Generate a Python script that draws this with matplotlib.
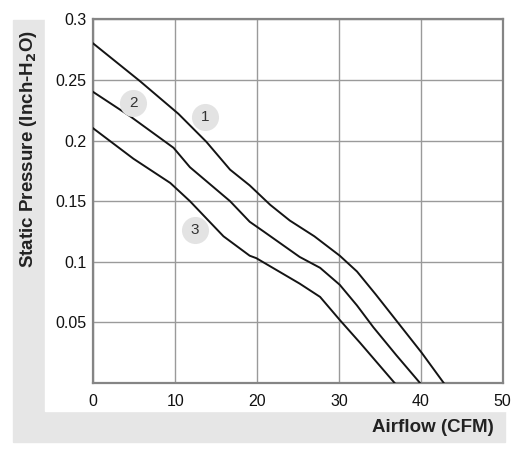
import matplotlib.pyplot as plt
from matplotlib.patches import Rectangle

plt.rcParams['font.family'] = ['Liberation Sans', 'DejaVu Sans']

# fan curves (airflow CFM, static pressure inch-H2O)
x1 = [0, 5.7, 10.4, 13.8, 16.7, 19.1, 21.6, 24.0, 27.0, 30.1, 32.2, 34.5, 36.6, 40.1, 42.8]
y1 = [0.280, 0.249, 0.222, 0.199, 0.176, 0.163, 0.147, 0.134, 0.121, 0.105, 0.092, 0.073, 0.055, 0.025, 0.0]

x2 = [0, 4.5, 9.8, 11.8, 16.7, 19.1, 20.8, 25.2, 27.7, 30.1, 32.2, 34.2, 37.0, 39.9]
y2 = [0.240, 0.220, 0.194, 0.178, 0.150, 0.133, 0.125, 0.104, 0.095, 0.081, 0.064, 0.046, 0.023, 0.0]

x3 = [0, 4.9, 9.4, 11.8, 15.9, 19.1, 19.9, 25.2, 27.7, 30.1, 32.6, 36.8]
y3 = [0.210, 0.185, 0.165, 0.150, 0.121, 0.105, 0.103, 0.082, 0.071, 0.052, 0.033, 0.0]

curve_labels = ['1', '2', '3']
label_x = [13.7, 4.9, 12.4]
label_y = [0.219, 0.231, 0.126]

xticks = [0, 10, 20, 30, 40, 50]
yticks = [0.05, 0.1, 0.15, 0.2, 0.25, 0.3]
ytick_labels = ['0.05', '0.1', '0.15', '0.2', '0.25', '0.3']

fig = plt.figure(figsize=(5.15, 4.49), dpi=100)
W, H = 515, 449

# gray L-shaped label panel
fig.patches.append(Rectangle((13 / W, 1 - 442 / H), 492 / W, 422 / H,
                             transform=fig.transFigure, color='#e6e6e6', zorder=-2))
fig.patches.append(Rectangle((45 / W, 1 - 411 / H), 470 / W, 411 / H,
                             transform=fig.transFigure, color='white', zorder=-1))

ax = fig.add_axes([93.3 / W, 1 - 383 / H, 409.4 / W, 363.7 / H])
ax.set_zorder(2)
ax.set_facecolor('white')

for xs, ys in [(x1, y1), (x2, y2), (x3, y3)]:
    ax.plot(xs, ys, color='#141414', lw=1.4, zorder=3)

ax.scatter(label_x, label_y, s=380, color='#e3e3e3', zorder=4, linewidths=0)
for t, lx, ly in zip(curve_labels, label_x, label_y):
    ax.text(lx, ly, t, ha='center', va='center', fontsize=11, color='#333333', zorder=5)

ax.set_xlim(0, 50)
ax.set_ylim(0, 0.3)
ax.set_xticks(xticks)
ax.set_yticks(yticks)
ax.set_yticklabels(ytick_labels)
ax.grid(True, color='#9a9a9a', lw=1.0, zorder=1)
ax.set_axisbelow(True)
ax.tick_params(axis='x', length=0, pad=8, labelsize=11.5, labelcolor='#111111')
ax.tick_params(axis='y', length=0, pad=5, labelsize=11.5, labelcolor='#111111')
for sp in ax.spines.values():
    sp.set_color('#858585')
    sp.set_linewidth(1.6)

fig.text(29 / W, 1 - 149 / H, 'Static Pressure (Inch-H$_\\mathbf{2}$O)', rotation=90,
         ha='center', va='center', fontsize=13.5, fontweight='bold', color='#222222')
fig.text(494 / W, 1 - 427 / H, 'Airflow (CFM)', ha='right', va='center',
         fontsize=13.5, fontweight='bold', color='#222222')

fig.savefig('out.png', dpi=100)
